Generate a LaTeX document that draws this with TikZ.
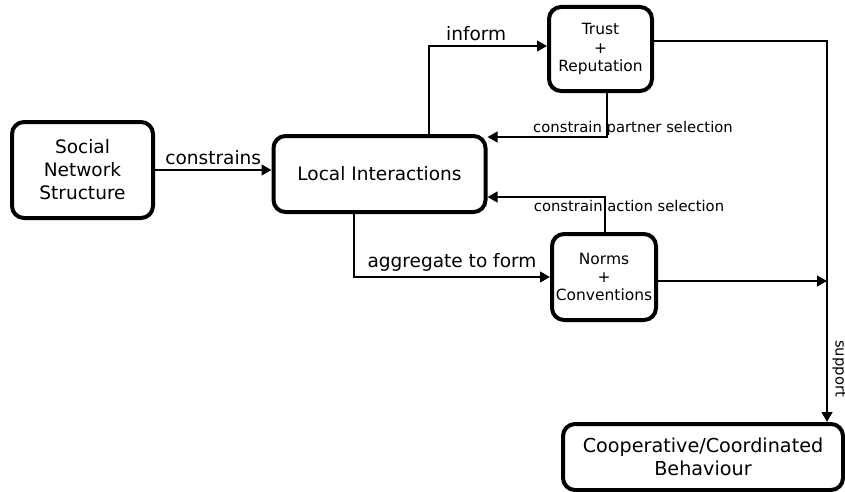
\documentclass[tikz,border=0pt]{standalone}
\usepackage{fontspec}
\setmainfont{DejaVu Sans}
\usetikzlibrary{arrows.meta,positioning}

\begin{document}
\begin{tikzpicture}[x=0.75pt,y=-0.75pt,
  box/.style={draw,line width=3pt,rounded corners=9pt,align=center,inner sep=0pt},
  arr/.style={line width=1.7pt,-{Triangle[length=7.5pt,width=8pt]}},
  lbl/.style={font=\fontsize{11.1}{13}\selectfont},
  big/.style={font=\fontsize{13.9}{16}\selectfont}]

\useasboundingbox (0,0) rectangle (845,492);

% boxes
\node[box,minimum width=105.75pt,minimum height=72pt,font=\fontsize{13.9}{17.3}\selectfont] (social) at (82.5,170) {Social\\Network\\Structure};
\node[box,minimum width=159pt,minimum height=57pt,big] (local) at (379.5,174) {Local Interactions};
\node[box,minimum width=77.25pt,minimum height=63pt,font=\fontsize{11.6}{14.2}\selectfont] (trust) at (600.5,49) {Trust\\+\\Reputation};
\node[box,minimum width=78pt,minimum height=64.5pt,font=\fontsize{11.6}{13.8}\selectfont] (norms) at (604,277) {Norms\\+\\Conventions};
\node[box,minimum width=210pt,minimum height=49.5pt,font=\fontsize{14.4}{17}\selectfont] (coop) at (703,457) {Cooperative/Coordinated\\Behaviour};

% bends
\coordinate (inf) at (429,46);
\coordinate (psel) at (607,137);
\coordinate (asel) at (605,197);
\coordinate (agg) at (354,277);
\coordinate (top) at (827,41);
\coordinate (bus) at (827,281);

% connectors
\draw[arr] (social.east) -- (local.west |- social.east) node[midway,above,big] {constrains};
\draw[arr] (local.north -| inf) |- (trust.west |- inf) node[pos=0.7,above,big] {inform};
\draw[arr] (trust.south -| psel) |- (local.east |- psel);
\draw[arr] (norms.north -| asel) |- (local.east |- asel);
\draw[arr] (local.south -| agg) |- (norms.west |- agg) node[pos=0.75,above,big] {aggregate to form};
\draw[arr] (trust.east |- top) -| (coop.north -| top) node[pos=0.93,rotate=-90,anchor=south,lbl] {support};
\draw[arr] (norms.east |- bus) -- (bus);

\node[lbl] (plbl) at (633,128) {constrain partner selection};
\node[lbl] (albl) at (629,206) {constrain action selection};

\end{tikzpicture}
\end{document}
